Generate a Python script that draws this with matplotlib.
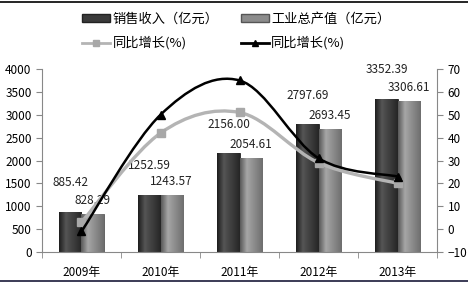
import matplotlib
matplotlib.use("Agg")
import matplotlib.pyplot as plt
import numpy as np
from matplotlib.path import Path
from matplotlib.patches import PathPatch, Patch
from matplotlib.lines import Line2D
from matplotlib.colors import LinearSegmentedColormap

plt.rcParams['font.family'] = ['Noto Sans CJK SC', 'DejaVu Sans']

years = ['2009年', '2010年', '2011年', '2012年', '2013年']
sales = [885.42, 1252.59, 2156.00, 2797.69, 3352.39]
output = [828.29, 1243.57, 2054.61, 2693.45, 3306.61]
growth_output = [3, 42, 51, 29, 20]
growth_sales = [-1, 50, 65, 31, 23]

dark = '#3a3a3a'
gray = '#8c8c8c'
line_gray = '#b4b4b4'
dark_cmap = LinearSegmentedColormap.from_list(
    'd', [(0, '#1e1e1e'), (0.3, '#555555'), (0.45, '#4a4a4a'), (1, '#262626')])
gray_cmap = LinearSegmentedColormap.from_list(
    'g', [(0, '#5a5a5a'), (0.3, '#a6a6a6'), (0.45, '#9a9a9a'), (1, '#6e6e6e')])


def smooth_path(xs, ys):
    # Excel-like smoothed line: Catmull-Rom converted to cubic Bezier segments
    pts = np.column_stack([xs, ys]).astype(float)
    verts = [pts[0]]
    codes = [Path.MOVETO]
    n = len(pts)
    for i in range(n - 1):
        p0 = pts[i - 1] if i > 0 else pts[i]
        p1 = pts[i]
        p2 = pts[i + 1]
        p3 = pts[i + 2] if i + 2 < n else pts[i + 1]
        verts += [p1 + (p2 - p0) / 6, p2 - (p3 - p1) / 6, p2]
        codes += [Path.CURVE4] * 3
    return Path(verts, codes)


def shade(ax, bars, cmap):
    grad = np.linspace(0, 1, 64).reshape(1, -1)
    for b in bars:
        x0, y0 = b.get_x(), b.get_y()
        im = ax.imshow(grad, cmap=cmap, aspect='auto', zorder=2.5,
                       extent=[x0, x0 + b.get_width(), y0, y0 + b.get_height()])
        im.set_clip_path(b)


fig = plt.figure(figsize=(4.68, 2.83), dpi=100)
ax = fig.add_axes([0.0897, 0.1095, 0.8443, 0.6466])
x = np.arange(len(years))
w = 0.28
b1 = ax.bar(x - w / 2, sales, w, color=dark, edgecolor='#222222', linewidth=0.6, zorder=2)
b2 = ax.bar(x + w / 2, output, w, color=gray, edgecolor='#555555', linewidth=0.6, zorder=2)
shade(ax, b1, dark_cmap)
shade(ax, b2, gray_cmap)

for xi, v in zip(x, sales):
    ax.annotate(f'{v:.2f}', (xi - w / 2, v), xytext=(0, 16), textcoords='offset points',
                ha='center', va='bottom', fontsize=8.5, color='#222222')
for xi, v in zip(x, output):
    ax.annotate(f'{v:.2f}', (xi + w / 2, v), xytext=(0, 5), textcoords='offset points',
                ha='center', va='bottom', fontsize=8.5, color='#222222')

ax.set_xlim(-0.5, 4.5)
ax.set_ylim(0, 4000)
ax.set_yticks(range(0, 4001, 500))
ax.set_xticks(x)
ax.set_xticklabels(years, fontsize=8.5)
ax.set_xticks(np.arange(-0.5, 5, 1), minor=True)
ax.tick_params(axis='x', which='major', length=0, pad=10)
ax.tick_params(axis='x', which='minor', length=4, color='#888888')
ax.tick_params(axis='y', labelsize=8.5, length=4, color='#888888')
for s in ['top', 'right']:
    ax.spines[s].set_visible(False)
ax.spines['left'].set_color('#888888')
ax.spines['bottom'].set_color('#888888')

ax2 = ax.twinx()
ax2.set_ylim(-10, 70)
ax2.set_yticks(range(-10, 71, 10))
ax2.tick_params(axis='y', labelsize=8.5, length=4, color='#888888')
for s in ['top', 'left', 'bottom']:
    ax2.spines[s].set_visible(False)
ax2.spines['right'].set_color('#888888')

ax2.add_patch(PathPatch(smooth_path(x, growth_output), facecolor='none',
                        edgecolor=line_gray, linewidth=2.4, zorder=3))
ax2.plot(x, growth_output, linestyle='none', marker='s', markersize=6,
         color='#a8a8a8', zorder=4)
ax2.add_patch(PathPatch(smooth_path(x, growth_sales), facecolor='none',
                        edgecolor='black', linewidth=1.8, zorder=5))
ax2.plot(x, growth_sales, linestyle='none', marker='^', markersize=6,
         color='black', zorder=6)

handles = [
    Patch(facecolor=dark, edgecolor='#222222'),
    Line2D([], [], color=line_gray, linewidth=2, marker='s', markersize=5,
           markerfacecolor='#a8a8a8', markeredgecolor='#a8a8a8'),
    Patch(facecolor=gray, edgecolor='#555555'),
    Line2D([], [], color='black', linewidth=2, marker='^', markersize=5),
]
labels = ['销售收入（亿元）', '同比增长(%)', '工业总产值（亿元）', '同比增长(%)']
fig.legend(handles, labels, loc='center', bbox_to_anchor=(0.505, 0.89), ncol=2,
           frameon=False, fontsize=9.5, handlelength=2.1, handleheight=0.5,
           columnspacing=1.7, labelspacing=0.8, handletextpad=0.2)

fig.add_artist(Line2D([0, 1], [0.993, 0.993], color='black', linewidth=1.2))
fig.add_artist(Line2D([0, 1], [0.007, 0.007], color='#1a1a3a', linewidth=1.2))

fig.savefig('out.png', dpi=100)
